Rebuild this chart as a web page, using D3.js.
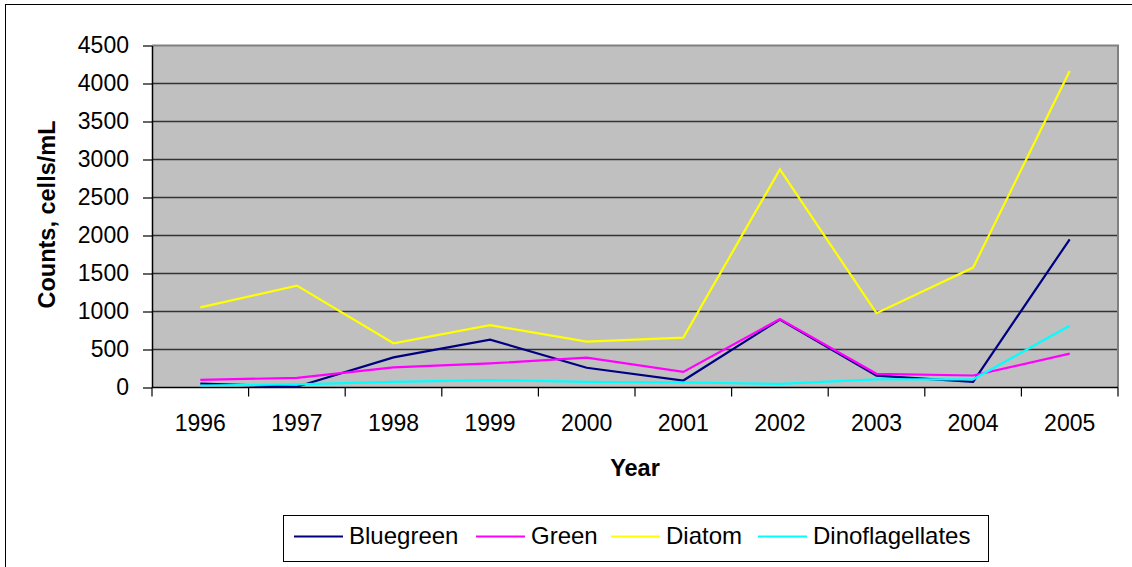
<!DOCTYPE html>
<html>
<head>
<meta charset="utf-8">
<script src="https://cdn.jsdelivr.net/npm/d3@7"></script>
<style>
  html, body { margin: 0; padding: 0; background: #fff; }
  svg { display: block; font-family: "Liberation Sans", Arial, sans-serif; }
</style>
</head>
<body>
<svg id="chart" width="1132" height="567"></svg>
<script>
// Phytoplankton counts by year (cells/mL)
const years = ["1996", "1997", "1998", "1999", "2000", "2001", "2002", "2003", "2004", "2005"];
const bluegreen = [50, 10, 397, 630, 260, 92, 895, 155, 75, 1950];
const green = [100, 127, 265, 317, 392, 206, 900, 180, 158, 445];
const diatom = [1055, 1340, 582, 820, 603, 656, 2870, 978, 1578, 4165];
const dinoflagellates = [26, 40, 74, 97, 74, 66, 48, 106, 108, 812];
const yTicks = [0, 500, 1000, 1500, 2000, 2500, 3000, 3500, 4000, 4500];

const seriesNames = ["Bluegreen", "Green", "Diatom", "Dinoflagellates"];
const seriesColors = ["#000080", "#ff00ff", "#ffff00", "#00ffff"];
const seriesValues = [bluegreen, green, diatom, dinoflagellates];

const svg = d3.select("#chart");
const plot = { left: 152, right: 1118, top: 45.5, bottom: 387.5 };

// outer chart frame
svg.append("rect")
  .attr("x", 5.5).attr("y", 4.5)
  .attr("width", 1140).attr("height", 580)
  .attr("fill", "#fff").attr("stroke", "#000").attr("stroke-width", 1);

const x = d3.scaleBand().domain(years).range([plot.left, plot.right]);
const y = d3.scaleLinear().domain([0, 4500]).range([plot.bottom, plot.top]);

// plot background
svg.append("rect")
  .attr("x", plot.left).attr("y", plot.top)
  .attr("width", plot.right - plot.left).attr("height", plot.bottom - plot.top)
  .attr("fill", "#c0c0c0");

// horizontal gridlines
svg.append("g")
  .selectAll("line")
  .data(yTicks.filter(d => d > 0 && d < 4500))
  .join("line")
  .attr("x1", plot.left).attr("x2", plot.right)
  .attr("y1", d => y(d)).attr("y2", d => y(d))
  .attr("stroke", "#333").attr("stroke-width", 1.5);

// plot border (top and right)
svg.append("path")
  .attr("d", `M${plot.left},${plot.top}H${plot.right}V${plot.bottom}`)
  .attr("fill", "none").attr("stroke", "#808080").attr("stroke-width", 2);

// y axis
const yAxis = svg.append("g")
  .attr("transform", `translate(${plot.left},0)`)
  .call(d3.axisLeft(y).tickValues(yTicks).tickFormat(d3.format("d"))
    .tickSize(9).tickPadding(14).tickSizeOuter(0));
yAxis.select(".domain").attr("stroke", "#000").attr("stroke-width", 1.5);
yAxis.selectAll(".tick line").attr("stroke", "#000").attr("stroke-width", 1.2);
yAxis.selectAll(".tick text")
  .attr("font-size", 23).attr("fill", "#000")
  .attr("font-family", "Liberation Sans, Arial, sans-serif");

// x axis: ticks at category boundaries, labels at category centres
const xAxisG = svg.append("g").attr("transform", `translate(0,${plot.bottom})`);
xAxisG.append("line")
  .attr("x1", plot.left).attr("x2", plot.right)
  .attr("stroke", "#000").attr("stroke-width", 1.5);
const boundaries = years.map(d => x(d)).concat([x(years[years.length - 1]) + x.bandwidth()]);
xAxisG.selectAll("line.tk")
  .data(boundaries)
  .join("line").attr("class", "tk")
  .attr("x1", d => d).attr("x2", d => d)
  .attr("y1", 0).attr("y2", 9)
  .attr("stroke", "#000").attr("stroke-width", 1.2);
xAxisG.selectAll("text")
  .data(years)
  .join("text")
  .attr("x", d => x(d) + x.bandwidth() / 2)
  .attr("y", 43)
  .attr("text-anchor", "middle")
  .attr("font-size", 23)
  .attr("fill", "#000")
  .text(d => d);

// series lines
const line = d3.line()
  .x((d, i) => x(years[i]) + x.bandwidth() / 2)
  .y(d => y(d));

svg.append("g")
  .selectAll("path")
  .data(seriesValues)
  .join("path")
  .attr("d", d => line(d))
  .attr("fill", "none")
  .attr("stroke", (d, i) => seriesColors[i])
  .attr("stroke-width", 2.2)
  .attr("stroke-linejoin", "miter");

// axis titles
svg.append("text")
  .attr("x", (plot.left + plot.right) / 2)
  .attr("y", 476)
  .attr("text-anchor", "middle")
  .attr("font-size", 23.5).attr("font-weight", "bold")
  .text("Year");

svg.append("text")
  .attr("transform", `translate(55,${(plot.top + plot.bottom) / 2 - 2}) rotate(-90)`)
  .attr("text-anchor", "middle")
  .attr("font-size", 23.5).attr("font-weight", "bold")
  .text("Counts, cells/mL");

// legend
const legend = svg.append("g");
legend.append("rect")
  .attr("x", 283.5).attr("y", 515.5)
  .attr("width", 705).attr("height", 46)
  .attr("fill", "#fff").attr("stroke", "#000").attr("stroke-width", 1);

const legendX = [294, 476, 611, 758];
const item = legend.selectAll("g.item")
  .data(seriesNames)
  .join("g").attr("class", "item")
  .attr("transform", (d, i) => `translate(${legendX[i]},536.5)`);
item.append("line")
  .attr("x1", 0).attr("x2", 49)
  .attr("stroke", (d, i) => seriesColors[i]).attr("stroke-width", 2.2);
item.append("text")
  .attr("x", 55).attr("y", 7.5)
  .attr("font-size", 24).attr("fill", "#000")
  .text(d => d);
</script>
</body>
</html>
